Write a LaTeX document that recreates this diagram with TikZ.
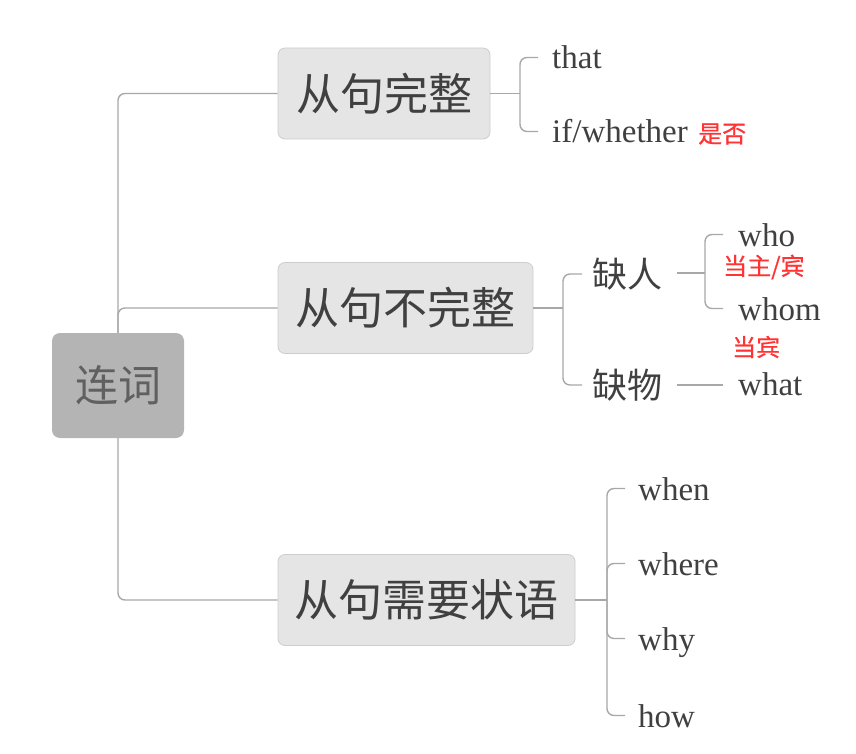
\documentclass[tikz,border=0pt]{standalone}
\usepackage{fontspec}
\setmainfont{Liberation Serif}
\newfontfamily\cjk{Noto Sans CJK SC}
\newfontfamily\cjknote[FakeBold=0.6]{Noto Sans CJK SC}
\usetikzlibrary{calc}
\definecolor{linegray}{HTML}{A8A8A8}
\definecolor{boxfill}{HTML}{E5E5E5}
\definecolor{boxborder}{HTML}{CDCDCD}
\definecolor{rootfill}{HTML}{B4B4B4}
\definecolor{roottxt}{HTML}{606060}
\definecolor{txt}{HTML}{404040}
\definecolor{notered}{HTML}{FF3333}
\newcommand{\lowered}[1]{\raisebox{-4.5pt}{#1}}
\begin{document}
\begin{tikzpicture}[x=1pt,y=-1pt,
  conn/.style={draw=linegray,line width=1.4pt,rounded corners=7pt},
  topic/.style={draw=boxborder,line width=0.8pt,fill=boxfill,rounded corners=7pt,text=txt,
    font=\cjk\fontsize{44}{50}\selectfont,inner sep=0pt,minimum height=91pt},
  rootbox/.style={fill=rootfill,rounded corners=8pt,text=roottxt,
    font=\cjk\fontsize{43}{50}\selectfont,minimum width=132pt,minimum height=105pt,inner sep=0pt},
  word/.style={anchor=base west,inner sep=0pt,text=txt,font=\fontsize{33}{36}\selectfont,
    text height=23pt,text depth=0pt},
  subtopic/.style={anchor=west,inner sep=0pt,text=txt,font=\cjk\fontsize{35}{40}\selectfont},
  note/.style={anchor=west,inner sep=0pt,text=notered,font=\cjknote\fontsize{24}{28}\selectfont}]
\useasboundingbox (0,0) rectangle (856,754);

% nodes
\node[rootbox] (root) at (118,385.5) {\lowered{连词}};
\node[topic,minimum width=212pt] (b1) at (384,93.5) {\lowered{从句完整}};
\node[topic,minimum width=255pt] (b2) at (405.5,308) {\lowered{从句不完整}};
\node[topic,minimum width=297pt] (b3) at (426.5,600) {\lowered{从句需要状语}};

\node[word] (that) at (552,69) {that};
\node[word] (if) at (552,143) {if/whether};
\node[note] (n1) at (698,134) {是否};

\node[subtopic] (q1) at (592,274) {缺人};
\node[subtopic] (q2) at (592,385) {缺物};
\node[word] (who) at (738,246) {who};
\node[note] (n2) at (723,267) {当主/宾};
\node[word] (whom) at (738,320) {whom};
\node[note] (n3) at (732,347) {当宾};
\node[word] (what) at (738,395) {what};

\node[word] (when) at (638,500) {when};
\node[word] (where) at (638,575) {where};
\node[word] (why) at (638,650) {why};
\node[word] (how) at (638,727) {how};

% connectors from root
\draw[conn] (b1.west) -| (root.north);
\draw[conn] (b2.west) -| (root.north);
\draw[conn] (b3.west) -| (root.south);

% branch 1
\coordinate (f1) at (520,93.5);
\draw[conn] (b1.east) -- (f1);
\draw[conn] ([xshift=-14pt]that.west) -| (f1) |- ([xshift=-14pt]if.west);

% branch 2
\coordinate (f2) at (563,308);
\draw[conn] (b2.east) -- (f2);
\draw[conn] ([xshift=-10pt]q1.west) -| (f2) |- ([xshift=-10pt]q2.west);
\coordinate (f3) at (705,273);
\draw[conn] ($(q1.east |- f3)+(15,0)$) -- (f3);
\draw[conn] ([xshift=-15pt]who.west) -| (f3) |- ([xshift=-15pt]whom.west);
\draw[conn] ($(q2.east)+(15,0)$) -- ($(q2.east -| what.west)+(-15,0)$);

% branch 3
\coordinate (f4) at (607,600);
\draw[conn] (b3.east) -- (f4);
\draw[conn] ([xshift=-13pt]when.west) -| (f4) |- ([xshift=-13pt]how.west);
\draw[conn] ([xshift=-13pt]where.west) -| (f4);
\draw[conn] ([xshift=-13pt]why.west) -| (f4);
\end{tikzpicture}
\end{document}
